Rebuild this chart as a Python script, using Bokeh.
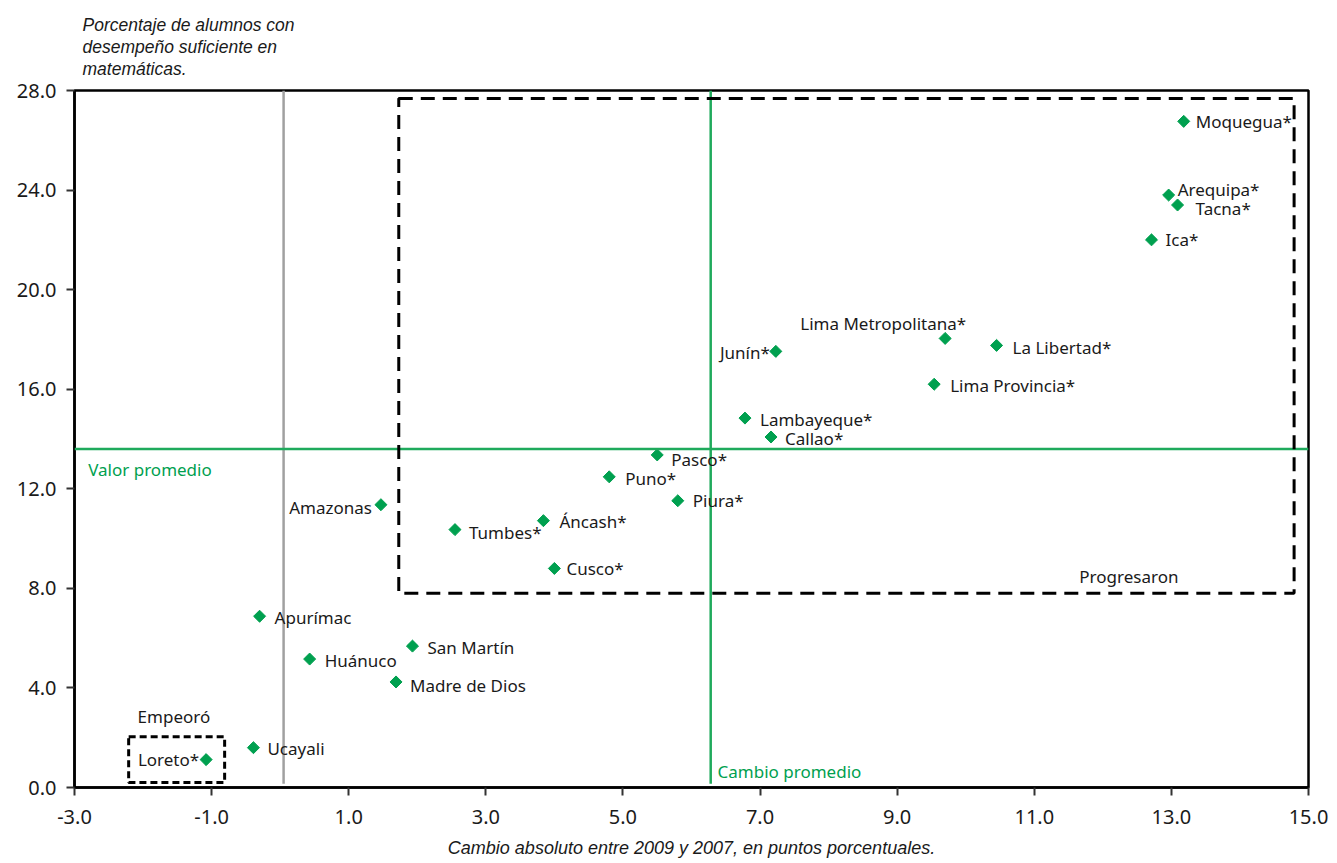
import math
from bokeh.plotting import figure
from bokeh.models import (ColumnDataSource, FixedTicker, NumeralTickFormatter, Label,
                          BoxAnnotation, Span, Range1d, Title)
from bokeh.embed import file_html
from bokeh.resources import INLINE
from bokeh.core.properties import value

# ---- data ----
regions = ["Moquegua*", "Arequipa*", "Tacna*", "Ica*", "Lima Metropolitana*", "La Libertad*",
           "Junín*", "Lima Provincia*", "Lambayeque*", "Callao*", "Pasco*", "Puno*", "Piura*",
           "Amazonas", "Áncash*", "Tumbes*", "Cusco*", "Apurímac", "San Martín", "Huánuco",
           "Madre de Dios", "Ucayali", "Loreto*"]
cambio = [13.18, 12.96, 13.09, 12.71, 9.70, 10.45, 7.23, 9.54, 6.78, 7.16, 5.50, 4.80, 5.80,
          1.47, 3.84, 2.55, 4.00, -0.30, 1.93, 0.43, 1.69, -0.39, -1.08]
porcentaje = [26.76, 23.80, 23.40, 22.00, 18.04, 17.76, 17.52, 16.20, 14.84, 14.08, 13.36, 12.48,
              11.52, 11.36, 10.72, 10.36, 8.80, 6.88, 5.68, 5.16, 4.24, 1.60, 1.12]
cambio_promedio = 6.28
valor_promedio = 13.6
x_ticks = [-3, -1, 1, 3, 5, 7, 9, 11, 13, 15]
y_ticks = [0, 4, 8, 12, 16, 20, 24, 28]

# label placement (screen offsets: dx right, dy down, alignment) -- layout only
label_layout = {
    "Moquegua*": (12, 0, "left"), "Arequipa*": (9, -6, "left"), "Tacna*": (18, 3, "left"),
    "Ica*": (14, 0, "left"), "Lima Metropolitana*": (21, -15, "right"),
    "La Libertad*": (16, 2, "left"), "Junín*": (-6, 1, "right"), "Lima Provincia*": (16, 1, "left"),
    "Lambayeque*": (15, 1, "left"), "Callao*": (14, 1, "left"), "Pasco*": (14, 5, "left"),
    "Puno*": (16, 2, "left"), "Piura*": (15, 0, "left"), "Amazonas": (-9, 3, "right"),
    "Áncash*": (16, 1, "left"), "Tumbes*": (14, 3, "left"), "Cusco*": (12, 0, "left"),
    "Apurímac": (15, 1, "left"), "San Martín": (15, 1, "left"), "Huánuco": (15, 1, "left"),
    "Madre de Dios": (14, 4, "left"), "Ucayali": (14, 1, "left"), "Loreto*": (-7, 0, "right"),
}

GREEN = "#00A04F"
LINE_GREEN = "#1FAA5C"
FONT = "Noto Sans"
TXT = "#1a1a1a"

p = figure(width=1337, height=860, output_backend="svg", toolbar_location=None,
           x_range=Range1d(-3, 15), y_range=Range1d(0, 28),
           min_border_left=74, min_border_right=29, min_border_top=89, min_border_bottom=71)
p.grid.visible = False
p.outline_line_color = "black"
p.outline_line_width = 2.5
p.background_fill_color = "white"

for ax in (p.xaxis[0], p.yaxis[0]):
    ax.axis_line_color = "black"
    ax.axis_line_width = 2.5
    ax.major_tick_line_color = "#333333"
    ax.major_tick_line_width = 2
    ax.major_tick_out = 8
    ax.major_tick_in = 0
    ax.minor_tick_line_color = None
    ax.major_label_text_font = FONT
    ax.major_label_text_font_size = "20px"
    ax.major_label_text_color = TXT
    ax.formatter = NumeralTickFormatter(format="0.0")

p.xaxis[0].ticker = FixedTicker(ticks=x_ticks)
p.yaxis[0].ticker = FixedTicker(ticks=y_ticks)
p.xaxis[0].major_label_standoff = 14
p.yaxis[0].major_label_standoff = 10
p.xaxis[0].axis_label = "Cambio absoluto entre 2009 y 2007, en puntos porcentuales."
p.xaxis[0].axis_label_text_font = "Liberation Sans"
p.xaxis[0].axis_label_text_font_style = "italic"
p.xaxis[0].axis_label_text_font_size = "18px"
p.xaxis[0].axis_label_text_color = TXT
p.xaxis[0].axis_label_standoff = 11

# y-axis title, written above the plot
p.add_layout(Title(text="Porcentaje de alumnos con\ndesempeño suficiente en\nmatemáticas.",
                   align="left", offset=8, standoff=24, text_font="Liberation Sans",
                   text_font_style="italic", text_font_size="17.5px", text_color=TXT,
                   text_line_height=1.1), "above")

# reference lines
p.segment(x0=[0.05], y0=[0.15], x1=[0.05], y1=[28], line_color="#A0A0A0", line_width=2.5)
p.segment(x0=[cambio_promedio], y0=[0.15], x1=[cambio_promedio], y1=[28],
          line_color=LINE_GREEN, line_width=2.5)
p.add_layout(Span(location=valor_promedio, dimension="width", line_color=LINE_GREEN, line_width=2.5))

# dashed boxes
p.add_layout(BoxAnnotation(left=1.73, right=14.79, bottom=7.8, top=27.68, fill_alpha=0,
                           line_color="black", line_alpha=1, line_width=3, line_dash="14 8"))
p.add_layout(BoxAnnotation(left=-2.21, right=-0.81, bottom=0.2, top=2.04, fill_alpha=0,
                           line_color="black", line_alpha=1, line_width=3, line_dash="7 4"))

# points
xo = [label_layout[r][0] for r in regions]
yo = [label_layout[r][1] for r in regions]
al = [label_layout[r][2] for r in regions]
src = ColumnDataSource(dict(x=cambio, y=porcentaje, name=regions, xo=xo, yo=yo, al=al))
p.scatter("x", "y", source=src, marker="square", angle=math.pi / 4, size=8.5,
          fill_color=GREEN, line_color=GREEN)
p.text(x="x", y="y", text="name", source=src, x_offset="xo", y_offset="yo", text_align="al",
       text_baseline="middle", text_font=value(FONT), text_font_size="17px", text_color=TXT)

# annotations
p.add_layout(Label(x=-2.8, y=12.76, text="Valor promedio", text_font=FONT, text_font_size="17px",
                   text_color=GREEN, text_baseline="middle"))
p.add_layout(Label(x=6.38, y=0.64, text="Cambio promedio", text_font=FONT, text_font_size="17px",
                   text_color=GREEN, text_baseline="middle"))
p.add_layout(Label(x=12.38, y=8.48, text="Progresaron", text_font=FONT, text_font_size="17px",
                   text_color=TXT, text_baseline="middle", text_align="center"))
p.add_layout(Label(x=-1.55, y=2.84, text="Empeoró", text_font=FONT, text_font_size="17px",
                   text_color=TXT, text_baseline="middle", text_align="center"))

open("out.html", "w").write(file_html(p, INLINE))
